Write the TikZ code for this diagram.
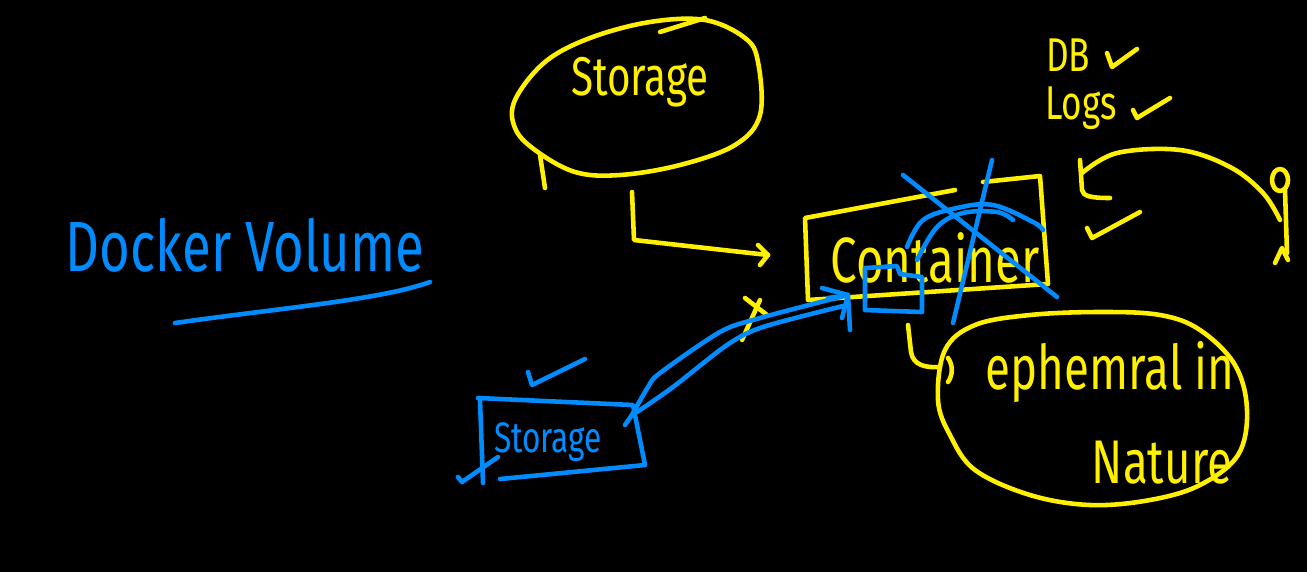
\documentclass[tikz,border=0pt]{standalone}
\usepackage{fontspec}
\setmainfont{Fira Sans}
\definecolor{ylw}{RGB}{255,240,0}
\definecolor{blu}{RGB}{0,140,255}
\newcommand{\tall}[1]{\scalebox{1}[1.35]{#1}}
\begin{document}
\begin{tikzpicture}[x=0.02cm,y=-0.02cm,
  pen/.style={line width=2.6pt,line cap=round,line join=round},
  yl/.style={pen,draw=ylw},
  bl/.style={pen,draw=blu},
  ytext/.style={text=ylw,inner sep=0pt},
  btext/.style={text=blu,inner sep=0pt}]
\fill[black] (0,0) rectangle (1307,572);
\useasboundingbox (0,0) rectangle (1307,572);

% --- Docker Volume title
\node[btext,font=\fontsize{30}{32}\selectfont] (title) at (245,245) {\tall{Docker Volume}};
\draw[bl] (175,323) .. controls (280,308) and (380,300) .. (430,282);

% --- yellow Storage blob
\draw[yl] plot[smooth cycle,tension=0.6] coordinates {(515,100) (545,62) (590,38) (650,22) (705,20) (745,38) (758,62) (760,115) (735,145) (680,165) (620,175) (575,172) (535,150) (515,128)};
\draw[yl] (660,32) -- (705,18);
\draw[yl] (540,155) -- (545,188);
\node[ytext,font=\fontsize{23}{25}\selectfont] (stor) at (640,82) {\tall{Storage}};

% --- arrow storage -> container
\coordinate (a1) at (632,192);
\coordinate (a2) at (768,255);
\draw[yl] (a1) -- (634,240) -- (a2);
\draw[yl] (758,245) -- (a2) -- (760,265);

% --- Container box
\draw[yl] (955,190) -- (805,218) -- (808,300) -- (1048,284) -- (1040,176) -- (983,182);
\node[ytext,font=\fontsize{27}{29}\selectfont] (cont) at (935,258) {\tall{Container}};

% --- blue scribbles over container
\draw[bl] (865,268) -- (865,310) -- (922,312) -- (922,277) -- (900,274) -- (897,266) -- cycle;
\draw[bl] (903,175) -- (1057,297);
\draw[bl] (953,323) -- (992,160);
\draw[bl] plot[smooth,tension=0.6] coordinates {(907,247) (923,220) (957,208) (993,205) (1033,222) (1043,230)};
\draw[bl] plot[smooth,tension=0.6] coordinates {(917,260) (937,227) (963,213) (997,212) (1013,220)};

% --- yellow x
\draw[yl] (745,298) -- (767,315);
\draw[yl] (760,300) -- (742,340);

% --- blue Storage box
\draw[bl] (478,398) -- (633,405) -- (645,465) -- (500,479);
\draw[bl] (480,400) -- (483,483);
\node[btext,font=\fontsize{18}{20}\selectfont] (bstor) at (548,442) {\tall{Storage}};
\draw[bl] (458,477) -- (462,482) -- (498,457);
\draw[bl] (528,372) -- (532,385) -- (585,359);

% --- blue arrows storage -> container
\coordinate (b1) at (625,425);
\coordinate (b2) at (848,295);
\draw[bl] plot[smooth,tension=0.5] coordinates {(b1) (633,413) (648,387) (660,373) (720,332) (760,318) (b2)};
\draw[bl] plot[smooth,tension=0.5] coordinates {(637,412) (673,387) (727,345) (763,327) (843,306)};
\draw[bl] (822,288) -- (b2) -- (850,330);
\draw[bl] (828,298) -- (b2) -- (842,318);

% --- connector container -> ephemeral
\draw[yl] (908,325) -- (911,352) .. controls (913,365) and (925,368) .. (940,367);
\draw[yl] (948,358) .. controls (953,365) and (953,375) .. (948,382);

% --- ephemeral blob
\draw[yl] plot[smooth cycle,tension=0.6] coordinates {(945,350) (975,325) (1030,315) (1100,312) (1160,315) (1200,330) (1235,365) (1247,410) (1238,455) (1200,485) (1150,500) (1090,505) (1030,495) (975,470) (950,435) (938,400)};
\node[ytext,font=\fontsize{26}{28}\selectfont] (eph) at (1110,372) {\tall{ephemral in}};
\node[ytext,font=\fontsize{26}{28}\selectfont] (nat) at (1162,463) {\tall{Nature}};

% --- DB / Logs
\node[ytext,font=\fontsize{20}{22}\selectfont] (db) at (1068,55) {\tall{DB}};
\draw[yl] (1107,53) -- (1112,67) -- (1137,49);
\node[ytext,font=\fontsize{20}{22}\selectfont] (logs) at (1081,108) {\tall{Logs}};
\draw[yl] (1133,110) -- (1137,118) -- (1170,98);
\draw[yl] (1080,160) -- (1082,190) .. controls (1083,196) and (1090,198) .. (1110,198);
\draw[yl] plot[smooth,tension=0.6] coordinates {(1082,173) (1117,153) (1180,150) (1230,167) (1263,193) (1280,220)};
\draw[yl] (1087,228) -- (1092,238) -- (1140,212);

% --- stick figure
\draw[yl] (1280,180) ellipse [x radius=8, y radius=11];
\draw[yl] (1285,190) -- (1287,253);
\draw[yl] (1275,263) -- (1282,248) -- (1288,260);
\end{tikzpicture}
\end{document}
